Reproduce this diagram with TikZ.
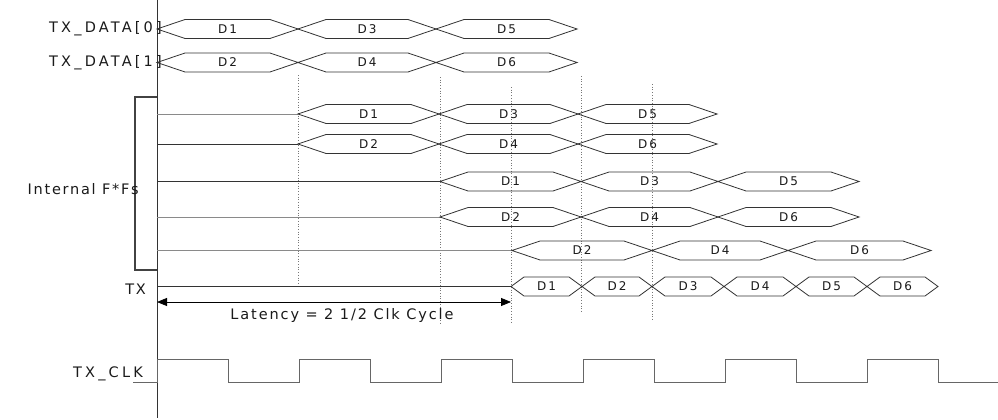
\documentclass[tikz,border=0pt]{standalone}
\usepackage{fontspec}
\setmainfont{DejaVu Sans}
\newfontfamily\lblfont[LetterSpace=12]{DejaVu Sans}
\newfontfamily\wlblfont[LetterSpace=22]{DejaVu Sans}
\newfontfamily\latfont[LetterSpace=13]{DejaVu Sans}
\newfontfamily\dfont[LetterSpace=16]{DejaVu Sans}
\usetikzlibrary{arrows.meta}
\definecolor{ink}{HTML}{1A1A1A}
\definecolor{wire}{HTML}{333333}
\definecolor{grayw}{HTML}{8A8A8A}
\definecolor{clk}{HTML}{666666}
\definecolor{dotc}{HTML}{777777}
\tikzset{
  hexline/.style={draw=wire, line width=0.8pt, line join=miter},
  dlabel/.style={inner sep=0pt, text=ink, font=\dfont\fontsize{12}{14}\selectfont},
  siglabel/.style={inner sep=0pt, anchor=east, text=ink, font=\lblfont\fontsize{14.5}{16}\selectfont},
  widelabel/.style={siglabel, font=\wlblfont\fontsize{14.5}{16}\selectfont},
  darkwire/.style={draw=wire, line width=0.8pt},
  graywire/.style={draw=grayw, line width=1pt},
  guide/.style={draw=dotc, line width=0.7pt, dotted},
  clkline/.style={draw=clk, line width=1pt},
  bracketline/.style={draw=wire!80!gray, line width=1.5pt},
  latarrow/.style={draw=black, line width=0.8pt, {Triangle[length=10pt,width=8pt]}-{Triangle[length=10pt,width=8pt]}}
}
% #1 name, #2 x1, #3 x2, #4 y, #5 ramp, #6 label
\newcommand\hexbox[6]{%
  \draw[hexline] (#2,#4) -- (#2+#5,#4-9.5) -- (#3-#5,#4-9.5) -- (#3,#4)
     -- (#3-#5,#4+9.5) -- (#2+#5,#4+9.5) -- cycle;
  \node[dlabel] (#1) at ({(#2+#3)/2},#4) {#6};%
}
\begin{document}
\begin{tikzpicture}[x=1pt,y=-1pt]
\useasboundingbox (0,0) rectangle (998,420);
\fill[white] (0,0) rectangle (998,420);

% guides (dotted)
\draw[guide] (298,75) -- (298,284);
\draw[guide] (440,77) -- (440,325);
\draw[guide] (511,87) -- (511,324);
\draw[guide] (581,76) -- (581,313);
\draw[guide] (652,84) -- (652,321);

% axis
\coordinate (axtop) at (157,0);
\coordinate (axbot) at (157,418);
\draw[darkwire] (axtop) -- (axbot);

% bracket
\draw[bracketline] (157,97) -- (135,97) -- (135,270) -- (157,270);

% labels
\node[widelabel] (ld0) at (162,29) {TX\_DATA[0]};
\node[widelabel] (ld1) at (162,62.5) {TX\_DATA[1]};
\node[siglabel] (lff) at (139,189) {Internal F*Fs};
\node[siglabel] (ltx) at (146,289) {TX};
\node[widelabel] (lclk) at (143,374) {TX\_CLK};

% TX_DATA[0]
\hexbox{a1}{157}{298}{29}{28}{D1}
\hexbox{a3}{298}{436}{29}{28}{D3}
\hexbox{a5}{436}{577}{29}{28}{D5}
% TX_DATA[1]
\hexbox{b2}{157}{298}{62.5}{28}{D2}
\hexbox{b4}{298}{436}{62.5}{28}{D4}
\hexbox{b6}{436}{577}{62.5}{28}{D6}

% internal FF row C
\coordinate (cs) at (157,114);
\coordinate (ce) at (298,114);
\draw[graywire] (cs) -- (ce);
\hexbox{c1}{298}{439}{114}{28}{D1}
\hexbox{c3}{439}{578}{114}{28}{D3}
\hexbox{c5}{578}{717}{114}{28}{D5}
% row D
\coordinate (ds) at (157,144);
\coordinate (de) at (298,144);
\draw[darkwire] (ds) -- (de);
\hexbox{d2}{298}{439}{144}{28}{D2}
\hexbox{d4}{439}{578}{144}{28}{D4}
\hexbox{d6}{578}{717}{144}{28}{D6}
% row E
\coordinate (es) at (157,181.5);
\coordinate (ee) at (440,181.5);
\draw[darkwire] (es) -- (ee);
\hexbox{e1}{440}{581}{181.5}{28}{D1}
\hexbox{e3}{581}{718}{181.5}{28}{D3}
\hexbox{e5}{718}{859}{181.5}{28}{D5}
% row F
\coordinate (fs) at (157,217);
\coordinate (fe) at (440,217);
\draw[graywire] (fs) -- (fe);
\hexbox{f2}{440}{581}{217}{28}{D2}
\hexbox{f4}{581}{718}{217}{28}{D4}
\hexbox{f6}{718}{859}{217}{28}{D6}
% row G
\coordinate (gs) at (157,250.5);
\coordinate (ge) at (512,250.5);
\draw[graywire] (gs) -- (ge);
\hexbox{g2}{512}{652}{250.5}{28}{D2}
\hexbox{g4}{652}{788}{250.5}{28}{D4}
\hexbox{g6}{788}{931}{250.5}{28}{D6}

% TX row
\coordinate (ts) at (157,286.5);
\coordinate (te) at (511,286.5);
\draw[darkwire] (ts) -- (te);
\hexbox{t1}{511}{582}{286.5}{13}{D1}
\hexbox{t2}{582}{652}{286.5}{13}{D2}
\hexbox{t3}{652}{724}{286.5}{13}{D3}
\hexbox{t4}{724}{796}{286.5}{13}{D4}
\hexbox{t5}{796}{867}{286.5}{13}{D5}
\hexbox{t6}{867}{938}{286.5}{13}{D6}

% latency
\coordinate (las) at (157,302);
\coordinate (lae) at (511,302);
\draw[latarrow] (las) -- (lae);
\node[inner sep=0pt, text=ink, font=\latfont\fontsize{14.5}{16}\selectfont] (lat) at (342,315.5) {Latency = 2 1/2 Clk Cycle};

% clock
\coordinate (ck0) at (133,382);
\coordinate (ck1) at (998,382);
\draw[clkline] (ck0) -- (157,382) -- (157,359) -- (228,359) -- (228,382)
  -- (299,382) -- (299,359) -- (370,359) -- (370,382)
  -- (441,382) -- (441,359) -- (512,359) -- (512,382)
  -- (583,382) -- (583,359) -- (654,359) -- (654,382)
  -- (725,382) -- (725,359) -- (796,359) -- (796,382)
  -- (867,382) -- (867,359) -- (938,359) -- (938,382) -- (ck1);
\end{tikzpicture}
\end{document}
